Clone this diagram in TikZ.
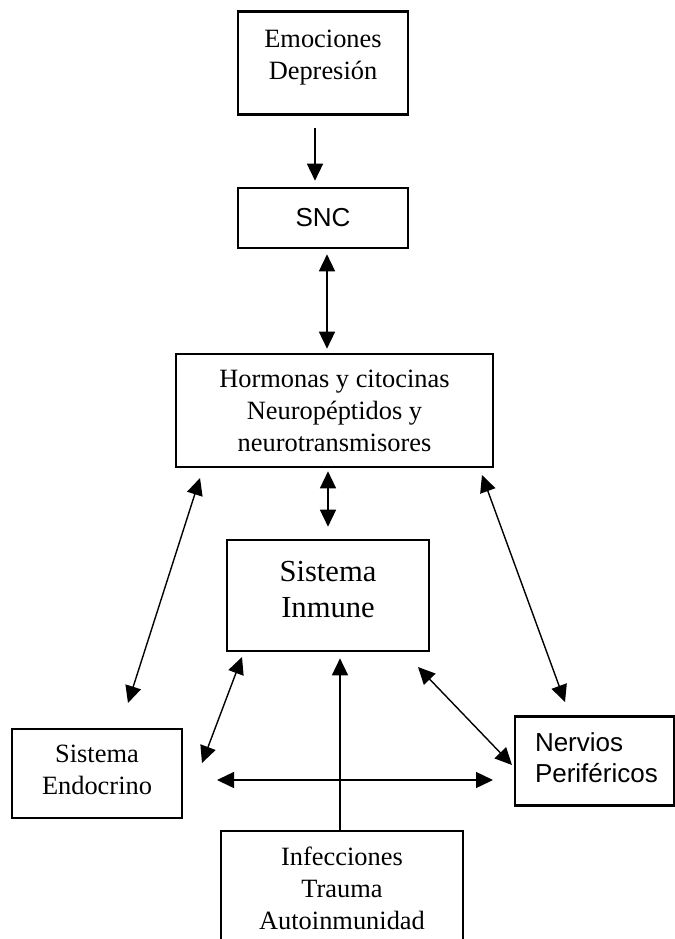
\documentclass[tikz,border=0pt]{standalone}
\usepackage{fontspec}
\setmainfont{Liberation Serif}
\setsansfont{Liberation Sans}
\usetikzlibrary{arrows.meta,positioning}
% extra depth under the last line, to lift the text in its box
\newcommand{\lowpad}[1]{\rule[-#1]{0pt}{#1}}

\begin{document}
\begin{tikzpicture}[x=0.5pt, y=-0.5pt,
    box/.style={draw, line width=1.3pt, rectangle, inner sep=0pt, align=center,
        font=\fontsize{13.2}{16}\selectfont},
    arr/.style={line width=0.7pt, -{Triangle[length=8.5pt, width=8pt]}},
    darr/.style={arr, {Triangle[length=8.5pt, width=8pt]}-{Triangle[length=8.5pt, width=8pt]}}]
    \path[use as bounding box, clip] (0,0) rectangle (675,939);

    \node[box, minimum width=85pt, minimum height=51.5pt] (emo) at (323,63) {Emociones\\Depresión\lowpad{8pt}};
    \node[box, minimum width=85pt, minimum height=30pt, font=\sffamily\fontsize{13}{16}\selectfont] (snc) at (323,218) {SNC};
    \node[box, minimum width=158.5pt, minimum height=56.5pt] (horm) at (334.5,410.5) {Hormonas y citocinas\\Neuropéptidos y\\neurotransmisores};
    \node[box, minimum width=101pt, minimum height=55.5pt, font=\fontsize{15.3}{18}\selectfont] (inm) at (328,595.5) {Sistema\\Inmune\lowpad{6pt}};
    \node[box, minimum width=85pt, minimum height=44.5pt] (endo) at (97,773.5) {Sistema\\Endocrino\lowpad{3.5pt}};
    \node[box, align=left, text width=59.5pt, inner xsep=10pt, minimum height=44.5pt,
        font=\sffamily\fontsize{13}{15.5}\selectfont] (nerv) at (594.5,761) {Nervios\\Periféricos\lowpad{3pt}};
    \node[box, minimum width=121pt, minimum height=57pt] (inf) at (342,888) {Infecciones\\Trauma\\Autoinmunidad};

    % free ends of the connectors
    \coordinate (hormL) at (200,478);
    \coordinate (endoT) at (128,703);
    \coordinate (hormR) at (482,475);
    \coordinate (nervT) at (565,702);
    \coordinate (inmL) at (242,657);
    \coordinate (endoR) at (202,763);
    \coordinate (inmR) at (418,667);
    \coordinate (nervL) at (512,765);
    \coordinate (endoE) at (217,780);
    \coordinate (nervW) at (493,780);
    \coordinate (infx) at (340,0);

    \draw[arr, shorten <=6pt, shorten >=3pt] ([xshift=-4pt]emo.south) -- ([xshift=-4pt]snc.north);
    \draw[darr, shorten <=2.5pt, shorten >=2pt] ([xshift=2pt]snc.south) -- ([xshift=-3.75pt]horm.north);
    \draw[darr, shorten <=1.5pt, shorten >=6pt] ([xshift=-3.25pt]horm.south) -- (inm.north);
    \draw[darr] (hormL) -- (endoT);
    \draw[darr] (hormR) -- (nervT);
    \draw[darr] (inmL) -- (endoR);
    \draw[darr] (inmR) -- (nervL);
    \draw[darr] (endoE) -- (nervW);
    \draw[arr, shorten >=3pt] (inf.north -| infx) -- (inm.south -| infx);
\end{tikzpicture}
\end{document}
